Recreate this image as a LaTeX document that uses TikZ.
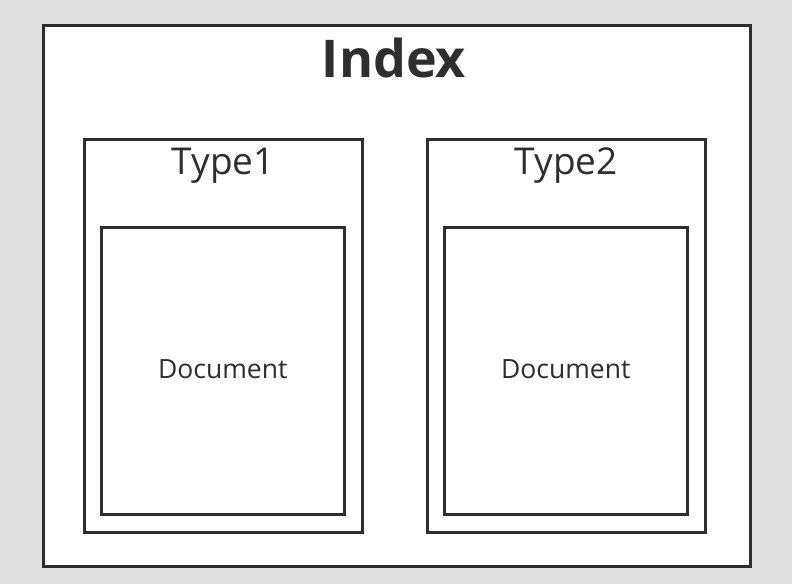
\documentclass[tikz,border=0pt]{standalone}
\usepackage{fontspec}
\setmainfont{Open Sans}
\definecolor{ink}{HTML}{2E2E2E}
\definecolor{bg}{HTML}{E0E0E0}
\begin{document}
\begin{tikzpicture}[x=1pt,y=-1pt,
  frame/.style={draw=ink,line width=2.6pt,fill=white,inner sep=0pt,anchor=north west},
  label/.style={text=ink,inner sep=0pt,anchor=base}]
  \fill[bg] (0,0) rectangle (792,584);
  \useasboundingbox (0,0) rectangle (792,584);
  % outer index frame
  \node[frame,minimum width=707pt,minimum height=541pt] (index) at (42,24) {};
  \node[label,font=\bfseries\fontsize{52}{52}\selectfont] (indext) at (394,77) {Index};
  % type frames
  \node[frame,minimum width=278pt,minimum height=393pt] (type1) at (83,138) {};
  \node[frame,minimum width=278pt,minimum height=393pt] (type2) at (426,138) {};
  \node[label,font=\fontsize{37}{37}\selectfont] (t1) at (type1.north |- 0,174) {Type1};
  \node[label,font=\fontsize{37}{37}\selectfont] (t2) at (type2.north |- 0,174) {Type2};
  % document frames
  \node[frame,minimum width=243pt,minimum height=287pt] (doc1) at (100,226) {};
  \node[frame,minimum width=243pt,minimum height=287pt] (doc2) at (443,226) {};
  \node[label,font=\fontsize{26.5}{26.5}\selectfont] at (doc1.center |- 0,378) {Document};
  \node[label,font=\fontsize{26.5}{26.5}\selectfont] at (doc2.center |- 0,378) {Document};
\end{tikzpicture}
\end{document}
